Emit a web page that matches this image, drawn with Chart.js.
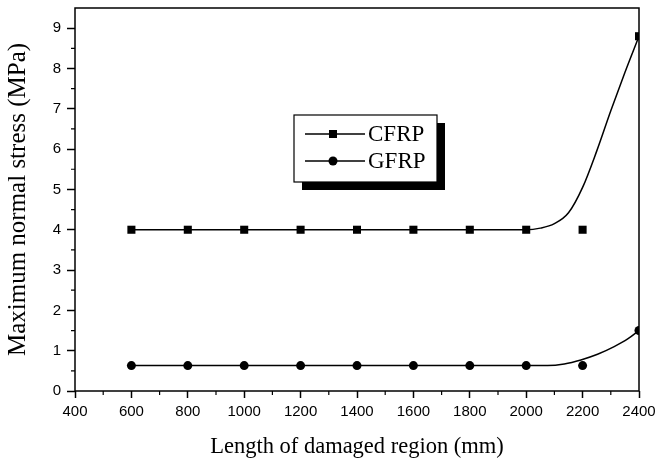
<!DOCTYPE html>
<html>
<head>
<meta charset="utf-8">
<script src="https://cdn.jsdelivr.net/npm/chart.js@4/dist/chart.umd.min.js"></script>
<style>
  html, body { margin: 0; padding: 0; background: #fff; }
  canvas { display: block; }
</style>
</head>
<body>
<canvas id="stressChart" width="657" height="465"></canvas>
<script>
// measured points
const lengths = [600, 800, 1000, 1200, 1400, 1600, 1800, 2000, 2200, 2400];
const cfrpStress = [4, 4, 4, 4, 4, 4, 4, 4, 4, 8.8];
const gfrpStress = [0.63, 0.63, 0.63, 0.63, 0.63, 0.63, 0.63, 0.63, 0.63, 1.5];

// fitted curves
const cfrpFitX = [600, 2000, 2050, 2100, 2150, 2200, 2250, 2300, 2350, 2400];
const cfrpFitY = [4, 4, 4.04, 4.15, 4.42, 5.05, 5.95, 6.95, 7.9, 8.8];
const gfrpFitX = [600, 2000, 2076, 2135, 2194, 2253, 2312, 2360, 2400];
const gfrpFitY = [0.63, 0.63, 0.63, 0.67, 0.77, 0.91, 1.1, 1.29, 1.5];

const xTicks = [400, 600, 800, 1000, 1200, 1400, 1600, 1800, 2000, 2200, 2400];
const xMinor = [500, 700, 900, 1100, 1300, 1500, 1700, 1900, 2100, 2300];
const yTicks = [0, 1, 2, 3, 4, 5, 6, 7, 8, 9];
const yMinor = [0.5, 1.5, 2.5, 3.5, 4.5, 5.5, 6.5, 7.5, 8.5];

const seriesNames = ["CFRP", "GFRP"];

const pts = (xs, ys) => xs.map((x, i) => ({ x: x, y: ys[i] }));

/* ── frame, minor ticks, boxed legend ── */
const extras = {
  id: "extras",
  afterDraw(chart) {
    const ctx = chart.ctx;
    const a = chart.chartArea;
    const xs = chart.scales.x, ys = chart.scales.y;
    ctx.save();
    ctx.strokeStyle = "#000";
    ctx.lineWidth = 1.5;
    ctx.strokeRect(a.left, a.top, a.right - a.left, a.bottom - a.top);

    ctx.lineWidth = 1.2;
    ctx.beginPath();
    xMinor.forEach(v => {
      const p = xs.getPixelForValue(v);
      ctx.moveTo(p, a.bottom);
      ctx.lineTo(p, a.bottom + 4);
    });
    yMinor.forEach(v => {
      const p = ys.getPixelForValue(v);
      ctx.moveTo(a.left, p);
      ctx.lineTo(a.left - 4, p);
    });
    ctx.stroke();

    // legend box with shadow
    const bx = 294, by = 115, bw = 143, bh = 67;
    ctx.fillStyle = "#000";
    ctx.fillRect(bx + 8, by + 8, bw, bh);
    ctx.fillStyle = "#fff";
    ctx.fillRect(bx, by, bw, bh);
    ctx.lineWidth = 1.2;
    ctx.strokeRect(bx, by, bw, bh);

    const rows = [134, 161];
    ctx.font = "23px 'Liberation Serif', 'Times New Roman', serif";
    ctx.textBaseline = "middle";
    rows.forEach((ry, i) => {
      ctx.lineWidth = 1.5;
      ctx.beginPath();
      ctx.moveTo(305, ry);
      ctx.lineTo(365, ry);
      ctx.stroke();
      ctx.fillStyle = "#000";
      if (i === 0) {
        ctx.fillRect(329, ry - 4, 8, 8);
      } else {
        ctx.beginPath();
        ctx.arc(333, ry, 4.5, 0, Math.PI * 2);
        ctx.fill();
      }
      ctx.fillText(seriesNames[i], 368, ry + 1);
    });
    ctx.restore();
  }
};

const tickFont = { family: "'Liberation Sans', Arial, sans-serif", size: 15 };
const serif = "'Liberation Serif', 'Times New Roman', serif";

new Chart(document.getElementById("stressChart"), {
  type: "scatter",
  data: {
    datasets: [
      {
        data: pts(cfrpFitX, cfrpFitY),
        showLine: true,
        borderColor: "#000",
        borderWidth: 1.5,
        pointRadius: 0,
        cubicInterpolationMode: "monotone",
        fill: false
      },
      {
        data: pts(gfrpFitX, gfrpFitY),
        showLine: true,
        borderColor: "#000",
        borderWidth: 1.5,
        pointRadius: 0,
        cubicInterpolationMode: "monotone",
        fill: false
      },
      {
        label: seriesNames[0],
        data: pts(lengths, cfrpStress),
        pointStyle: "rect",
        pointRadius: 5.7,
        backgroundColor: "#000",
        borderColor: "#000",
        borderWidth: 0
      },
      {
        label: seriesNames[1],
        data: pts(lengths, gfrpStress),
        pointStyle: "circle",
        pointRadius: 4.5,
        backgroundColor: "#000",
        borderColor: "#000",
        borderWidth: 0
      }
    ]
  },
  options: {
    responsive: false,
    animation: false,
    layout: { padding: { top: 8, right: 18, left: 0, bottom: 0 } },
    plugins: {
      legend: { display: false },
      tooltip: { enabled: false }
    },
    scales: {
      x: {
        type: "linear",
        min: 400, max: 2400,
        afterBuildTicks: s => { s.ticks = xTicks.map(v => ({ value: v })); },
        afterFit: s => { s.height = 74; s.paddingLeft = 0; s.paddingRight = 0; },
        border: { display: false },
        grid: { drawOnChartArea: false, drawTicks: true, tickLength: 7, tickColor: "#000", tickWidth: 1.5 },
        ticks: { color: "#000", font: tickFont, padding: 5, maxRotation: 0, autoSkip: false, callback: v => String(v) },
        title: {
          display: true,
          text: "Length of damaged region (mm)",
          color: "#000",
          font: { family: serif, size: 22.5 },
          padding: { top: 0, bottom: 4 }
        }
      },
      y: {
        min: 0, max: 9.5,
        afterBuildTicks: s => { s.ticks = yTicks.map(v => ({ value: v })); },
        afterFit: s => { s.width = 75; s.paddingTop = 0; s.paddingBottom = 0; },
        border: { display: false },
        grid: { drawOnChartArea: false, drawTicks: true, tickLength: 8, tickColor: "#000", tickWidth: 1.5 },
        ticks: { color: "#000", font: tickFont, padding: 6, autoSkip: false },
        title: {
          display: true,
          text: "Maximum normal stress (MPa)",
          color: "#000",
          font: { family: serif, size: 25 },
          padding: { top: 3, bottom: 0 }
        }
      }
    }
  },
  plugins: [extras]
});
</script>
</body>
</html>
